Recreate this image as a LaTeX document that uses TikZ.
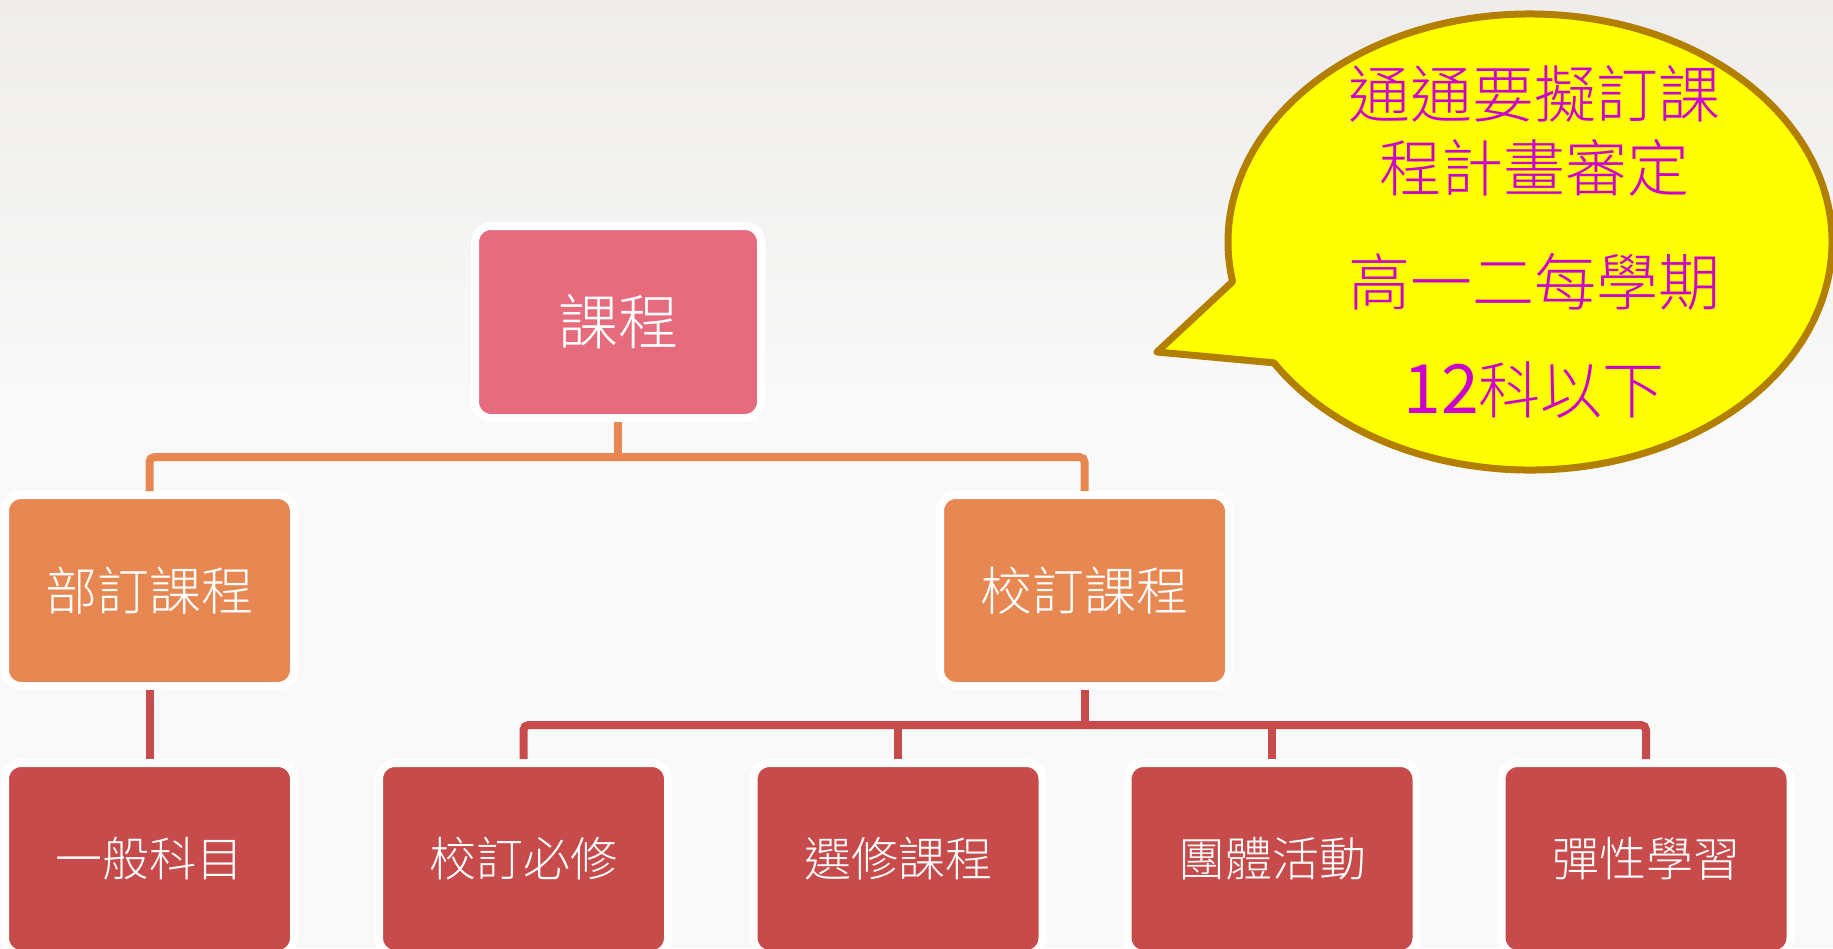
\documentclass[tikz,border=0pt]{standalone}
\usepackage{fontspec}
\newfontfamily\cjk{Noto Sans CJK TC}[UprightFont={* Light}]
\newfontfamily\cjkreg{Noto Sans CJK TC}
\definecolor{bgtop}{HTML}{EEEDEB}
\definecolor{bgbot}{HTML}{F9F9F9}
\definecolor{pinkbox}{HTML}{E56B7D}
\definecolor{orangebox}{HTML}{E78853}
\definecolor{redbox}{HTML}{C64B4A}
\definecolor{calloutfill}{HTML}{FFFF00}
\definecolor{calloutline}{HTML}{B37F00}
\definecolor{callouttext}{HTML}{CC00CC}
\begin{document}
\begin{tikzpicture}[x=1pt,y=-1pt,
  box/.style={rectangle, rounded corners=16pt, draw=white, line width=8pt,
    inner sep=0pt, minimum width=289pt, minimum height=191pt, text=white},
  rootbox/.style={box, fill=pinkbox, minimum width=286pt, minimum height=192pt,
    font=\cjk\fontsize{60}{60}\selectfont},
  midbox/.style={box, fill=orangebox, font=\cjk\fontsize{52}{52}\selectfont},
  leafbox/.style={box, fill=redbox, font=\cjk\fontsize{47}{47}\selectfont},
  orangeline/.style={draw=orangebox, line width=8pt, rounded corners=5pt},
  redline/.style={draw=redbox, line width=8pt, rounded corners=5pt},
  calloutshape/.style={fill=calloutfill, draw=calloutline, line width=7pt, line join=round},
  callouttxt/.style={text=callouttext, inner sep=0pt, font=\cjk\fontsize{62}{62}\selectfont}
]
\useasboundingbox (0,0) rectangle (1833,948);
% background
\shade[top color=bgtop, bottom color=bgbot] (0,0) rectangle (1833,400);
\fill[bgbot] (0,399) rectangle (1833,948);

% nodes
\node[rootbox] (root) at (618,322) {課程};
\node[midbox] (dept) at (149.5,590.5) {部訂課程};
\node[midbox] (school) at (1084.5,590.5) {校訂課程};
\node[leafbox] (general) at (149.5,858.5) {一般科目};
\node[leafbox] (req) at (523.5,858.5) {校訂必修};
\node[leafbox] (elect) at (898,858.5) {選修課程};
\node[leafbox] (group) at (1272,858.5) {團體活動};
\node[leafbox] (flex) at (1646,858.5) {彈性學習};

% connectors
\coordinate (hubT) at (0,457);
\coordinate (hubS) at (0,725);
\draw[orangeline] (dept.north) -- (dept.north |- hubT) -- (school.north |- hubT) -- (school.north);
\draw[draw=orangebox, line width=8pt] (root.south) -- (root.south |- hubT);
\draw[redline] (dept.south) -- (general.north);
\draw[redline] (req.north) -- (req.north |- hubS) -- (flex.north |- hubS) -- (flex.north);
\draw[draw=redbox, line width=8pt] (school.south) -- (school.south |- hubS);
\draw[draw=redbox, line width=8pt] (elect.north |- hubS) -- (elect.north);
\draw[draw=redbox, line width=8pt] (group.north |- hubS) -- (group.north);

% callout
\coordinate (cc) at (1530,242);
\coordinate (tip) at (1157,352);
\draw[calloutshape] (tip) -- ([shift={(148:302 and 228)}]cc)
  arc[start angle=148, end angle=-190, x radius=302, y radius=228] -- cycle;
\node[callouttxt] (t1) at (1534,94) {通通要擬訂課};
\node[callouttxt] (t2) at (1534,168) {程計畫審定};
\node[callouttxt] (t3) at (1534,282) {高一二每學期};
\node[callouttxt] (t4) at (1534,390) {{\cjkreg\fontsize{68}{68}\selectfont 12}科以下};
\end{tikzpicture}
\end{document}
